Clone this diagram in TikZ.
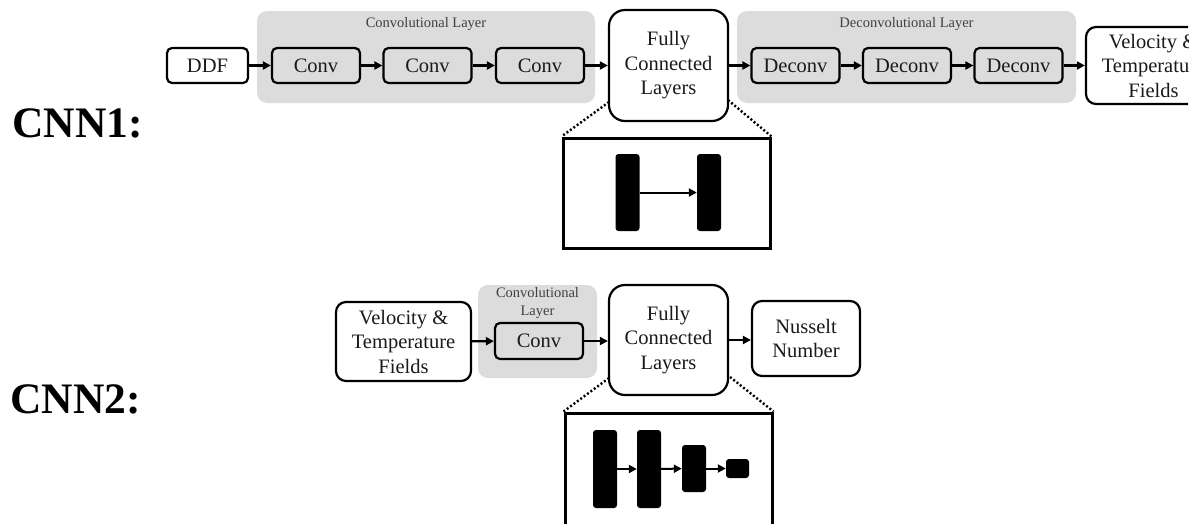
\documentclass[tikz,border=0pt]{standalone}
\usepackage{fontspec}
\setmainfont{Liberation Serif}
\usetikzlibrary{arrows.meta}
\definecolor{panel}{HTML}{DCDCDC}
\definecolor{ink}{HTML}{1A1A1A}
\begin{document}
\begin{tikzpicture}[x=1pt,y=-1pt,
  txt/.style={font=\fontsize{20.5}{24.5}\selectfont, text=ink, align=center, inner sep=0},
  layerbox/.style={txt, draw=black, line width=2.2pt, rounded corners=5pt, fill=panel,
    minimum width=88pt, minimum height=35pt},
  endbox/.style={txt, draw=black, line width=2.2pt, rounded corners=10pt, fill=white},
  fcbox/.style={txt, draw=black, line width=2.2pt, rounded corners=16pt, fill=white,
    minimum width=119pt, minimum height=110pt},
  panelbox/.style={fill=panel, rounded corners=10pt, inner sep=0},
  paneltitle/.style={font=\fontsize{14.5}{18}\selectfont, text=black!75, align=center, inner sep=0},
  flow/.style={line width=2.2pt, -{Triangle[length=8pt,width=8pt]}},
  zoomframe/.style={draw=black, line width=3pt, fill=white, inner sep=0},
  unit/.style={fill=black, rounded corners=3pt, inner sep=0, minimum width=24pt},
  unitflow/.style={line width=2pt, -{Triangle[length=8pt,width=8pt]}},
  zoomline/.style={line width=2.4pt, dash pattern=on 2pt off 2.2pt},
  rowlabel/.style={font=\fontsize{43.5}{43.5}\selectfont\bfseries, text=black, anchor=base west, inner sep=0}]

\useasboundingbox (0,0) rectangle (1199,523);
\clip (0,0) rectangle (1199,523);

% ---------------- CNN1 ----------------
\node[rowlabel] (lab1) at (12,137) {CNN1:};

\node[panelbox, minimum width=338pt, minimum height=92pt] (convpanel) at (426,57) {};
\node[paneltitle] (convtitle) at (426,24) {Convolutional Layer};
\node[panelbox, minimum width=339pt, minimum height=92pt] (deconvpanel) at (906.5,57) {};
\node[paneltitle] (deconvtitle) at (906.5,24) {Deconvolutional Layer};

\node[layerbox, fill=white, minimum width=81pt] (ddf) at (207.5,65.5) {DDF};
\node[layerbox] (c1) at (316,65.5) {Conv};
\node[layerbox] (c2) at (427.5,65.5) {Conv};
\node[layerbox] (c3) at (540,65.5) {Conv};
\node[fcbox, minimum height=111pt] (fc1) at (668.5,65.5) {Fully\\Connected\\Layers};
\node[layerbox] (d1) at (795.5,65.5) {Deconv};
\node[layerbox] (d2) at (907,65.5) {Deconv};
\node[layerbox] (d3) at (1018.5,65.5) {Deconv};
\begin{scope}
  \clip (0,0) rectangle (1188,523);
  \node[endbox, minimum width=135pt, minimum height=77pt] (out1) at (1153.5,65.5) {Velocity \&\\Temperature\\Fields};
\end{scope}

\draw[flow] (ddf) -- (c1);
\draw[flow] (c1) -- (c2);
\draw[flow] (c2) -- (c3);
\draw[flow] (c3) -- (fc1);
\draw[flow] (fc1) -- (d1);
\draw[flow] (d1) -- (d2);
\draw[flow] (d2) -- (d3);
\draw[flow] (d3) -- (out1.west);

% zoom into the fully connected part of CNN1
\node[zoomframe, minimum width=207pt, minimum height=110pt] (zoom1) at (666.5,193) {};
\node[unit, minimum height=77pt] (u11) at (627.5,192.5) {};
\node[unit, minimum height=77pt] (u12) at (709,192.5) {};
\draw[unitflow] (u11) -- (u12);
\coordinate (z1a) at (609,102);
\coordinate (z1b) at (728,100);
\draw[zoomline] (z1a) -- (zoom1.north west);
\draw[zoomline] (z1b) -- (zoom1.north east);

% ---------------- CNN2 ----------------
\node[rowlabel] (lab2) at (10,413) {CNN2:};

\node[panelbox, minimum width=119pt, minimum height=93pt] (convpanel2) at (537.5,331.5) {};
\node[paneltitle] (convtitle2) at (537.5,303) {Convolutional\\Layer};

\node[endbox, minimum width=135pt, minimum height=79pt] (in2) at (403.5,341.5) {Velocity \&\\Temperature\\Fields};
\node[layerbox, minimum height=36pt] (c21) at (539,341) {Conv};
\node[fcbox] (fc2) at (668.5,340) {Fully\\Connected\\Layers};
\node[endbox, minimum width=108pt, minimum height=75pt] (nu) at (806,338.5) {Nusselt\\Number};

\draw[flow] (in2) -- (c21);
\draw[flow] (c21) -- (fc2.west |- c21);
\draw[flow] (fc2) -- (nu.west |- fc2);

% zoom into the fully connected part of CNN2
\node[zoomframe, minimum width=207pt, minimum height=130pt] (zoom2) at (668.5,478) {};
\node[unit, minimum height=78pt] (u21) at (605,469) {};
\node[unit, minimum height=78pt] (u22) at (649,469) {};
\node[unit, minimum height=47pt] (u23) at (694,468.5) {};
\node[unit, minimum height=19pt, minimum width=23pt] (u24) at (737.5,468.5) {};
\draw[unitflow] (u21) -- (u22);
\draw[unitflow] (u22) -- (u23);
\draw[unitflow] (u23) -- (u24);
\coordinate (z2a) at (609,378);
\coordinate (z2b) at (730,377);
\draw[zoomline] (z2a) -- (zoom2.north west);
\draw[zoomline] (z2b) -- (zoom2.north east);

\end{tikzpicture}
\end{document}
